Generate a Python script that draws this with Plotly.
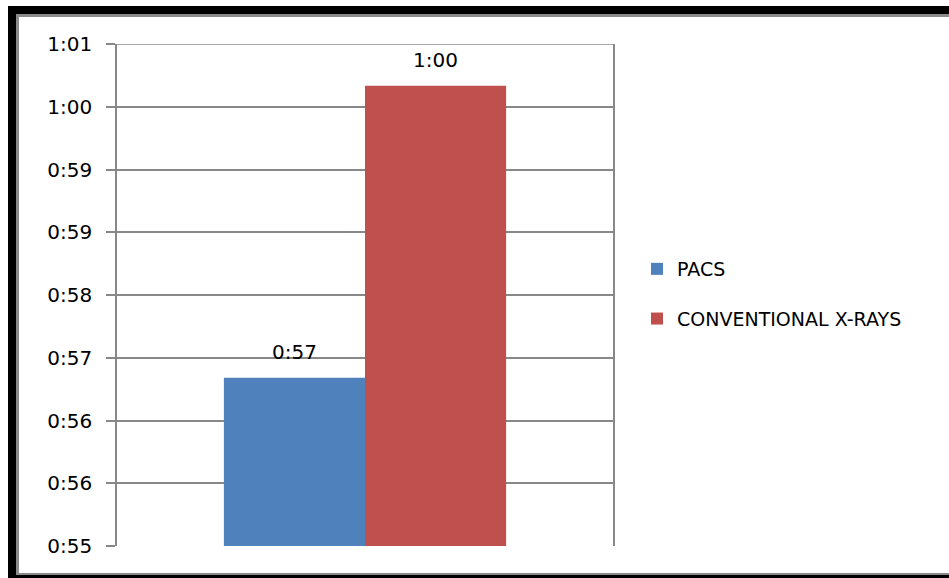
import plotly.graph_objects as go

# ---- data ----
series_names = ["PACS", "CONVENTIONAL X-RAYS"]
series_values = [57.01, 60.5]          # minutes
value_labels = ["0:57", "1:00"]
series_colors = ["#4F81BD", "#C0504D"]
tick_values = [55.0, 55.75, 56.5, 57.25, 58.0, 58.75, 59.5, 60.25, 61.0]
tick_labels = ["0:55", "0:56", "0:56", "0:57", "0:58", "0:59", "0:59", "1:00", "1:01"]

W, H = 949, 578
L, R, T, B = 117, 336, 44, 32
PW, PH = W - L - R, H - T - B
BARGAP = 0.431

def px(xp):
    return (xp - L) / PW

def py(yp):
    return (H - B - yp) / PH

fig = go.Figure()
for name, val, col in zip(series_names, series_values, series_colors):
    fig.add_trace(go.Bar(
        x=[0], y=[val], name=name, marker=dict(color=col, line=dict(width=0)),
        legendgroup=name,
    ))

# data labels above each bar
n = len(series_values)
bw = (1 - BARGAP) / n
for i, (val, lab) in enumerate(zip(series_values, value_labels)):
    xc = -(1 - BARGAP) / 2 + bw * (i + 0.5)
    fig.add_annotation(x=xc, y=val, text=lab, showarrow=False, yanchor="middle",
                       yshift=26, font=dict(family="DejaVu Sans", size=20, color="#000"))

frame_black = "#000000"
frame_gray = "#8a8a8a"
shapes = [
    # top gridline at the upper end of the axis
    dict(type="line", xref="paper", yref="y", x0=0, x1=1, y0=tick_values[-1], y1=tick_values[-1],
         line=dict(color="#888888", width=1.5), layer="below"),
    # top band
    dict(type="rect", xref="paper", yref="paper", x0=px(8), x1=px(W + 5), y0=py(14), y1=py(6),
         fillcolor=frame_black, line=dict(width=0), layer="above"),
    dict(type="rect", xref="paper", yref="paper", x0=px(16), x1=px(W + 5), y0=py(17), y1=py(14),
         fillcolor=frame_gray, line=dict(width=0), layer="above"),
    # left band
    dict(type="rect", xref="paper", yref="paper", x0=px(8), x1=px(16), y0=py(578), y1=py(6),
         fillcolor=frame_black, line=dict(width=0), layer="above"),
    dict(type="rect", xref="paper", yref="paper", x0=px(16), x1=px(19), y0=py(574), y1=py(14),
         fillcolor=frame_gray, line=dict(width=0), layer="above"),
    # bottom band
    dict(type="rect", xref="paper", yref="paper", x0=px(8), x1=px(W + 5), y0=py(578), y1=py(575),
         fillcolor=frame_black, line=dict(width=0), layer="above"),
    dict(type="rect", xref="paper", yref="paper", x0=px(16), x1=px(W + 5), y0=py(575), y1=py(573),
         fillcolor=frame_gray, line=dict(width=0), layer="above"),
]

fig.update_layout(
    width=W, height=H,
    margin=dict(l=L, r=R, t=T, b=B),
    paper_bgcolor="white", plot_bgcolor="white",
    barmode="group", bargap=BARGAP, bargroupgap=0,
    font=dict(family="DejaVu Sans", color="#000"),
    showlegend=True,
    legend=dict(x=px(637), y=py(294), xanchor="left", yanchor="middle",
                font=dict(size=19, color="#000"), traceorder="grouped",
                tracegroupgap=22, bgcolor="rgba(0,0,0,0)"),
    shapes=shapes,
    xaxis=dict(range=[-0.5, 0.5], showticklabels=False, ticks="", showgrid=False,
               zeroline=False, showline=False, fixedrange=True),
    yaxis=dict(range=[55, 61], tickvals=tick_values, ticktext=tick_labels,
               showgrid=True, gridcolor="#888888", gridwidth=1.5,
               showline=True, linecolor="#888888", linewidth=1.5, mirror=True,
               ticks="outside", ticklen=9, tickcolor="#888888", tickwidth=1.5,
               ticklabelstandoff=10, zeroline=False,
               tickfont=dict(family="DejaVu Sans", size=20, color="#000")),
)

fig.write_html("out.html")
